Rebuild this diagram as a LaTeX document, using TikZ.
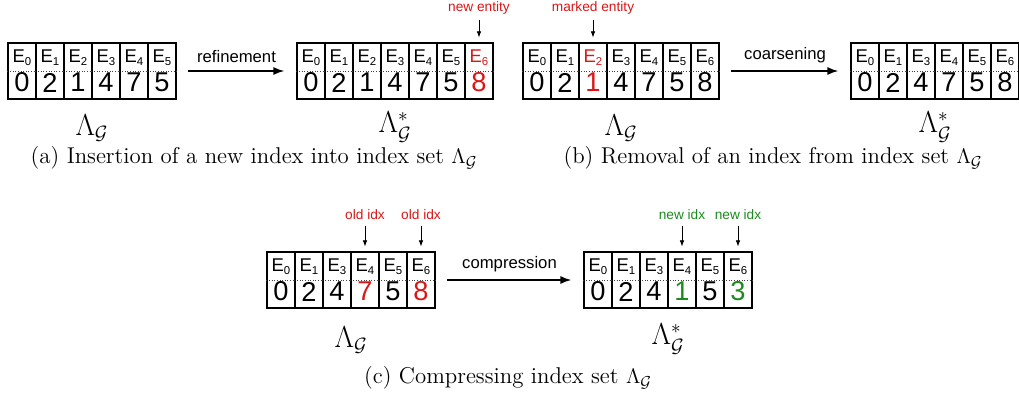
\documentclass[tikz,border=0pt]{standalone}
\usepackage{fontspec}
\newfontfamily\labelfont{Liberation Sans}
\usetikzlibrary{arrows.meta}
\definecolor{markred}{RGB}{218,22,22}
\definecolor{newgreen}{RGB}{28,138,28}
\tikzset{
  cell/.style={draw,line width=0.7pt,minimum width=0.56cm,minimum height=1.12cm,inner sep=0pt},
  idxtext/.style={font=\labelfont\fontsize{10.5}{11}\selectfont,inner sep=0pt},
  valtext/.style={font=\labelfont\fontsize{15.5}{16}\selectfont,inner sep=0pt},
  divider/.style={densely dotted,line width=0.5pt,black!75},
  note/.style={font=\labelfont\fontsize{7.8}{9}\selectfont,inner sep=1pt},
  steplabel/.style={font=\labelfont\fontsize{9.5}{11}\selectfont},
  bigarrow/.style={-{Latex[length=2.2mm,width=1.6mm]},line width=0.9pt,shorten <=0.22cm,shorten >=0.24cm},
  pointer/.style={-{Latex[length=1.2mm,width=0.9mm]},line width=0.4pt,shorten <=2pt,shorten >=0.1cm},
  setlabel/.style={font=\fontsize{16}{18}\selectfont,inner sep=0pt},
  subcap/.style={font=\fontsize{13}{15}\selectfont,inner sep=0pt},
}
% one index set: name, left x, top y, entries sub/value/sub colour/value colour
\newcommand{\idxrow}[4]{%
  \foreach \s/\v/\ecol/\vcol [count=\i from 0] in {#4} {
    \node[cell] (#1-\i) at ({#2+14+28*\i},{#3+28}) {};
    \draw[divider] (#1-\i.west) -- (#1-\i.east);
    \node[idxtext,text=\ecol] at ([yshift=0.27cm]#1-\i.center) {E\raisebox{-0.35ex}{\fontsize{6.5}{7}\selectfont\s}};
    \node[valtext,text=\vcol] at ([yshift=-0.23cm]#1-\i.center) {\v};
  }}
\begin{document}
\begin{tikzpicture}[x=0.02cm,y=-0.02cm]
  \useasboundingbox (0,0) rectangle (1019,396);
  % (a) refinement
  \idxrow{a1}{8}{43}{0/0/black/black,1/2/black/black,2/1/black/black,3/4/black/black,4/7/black/black,5/5/black/black}
  \idxrow{a2}{297}{43}{0/0/black/black,1/2/black/black,2/1/black/black,3/4/black/black,4/7/black/black,5/5/black/black,6/8/markred/markred}
  \draw[bigarrow] (a1-5) -- (a2-0) node[steplabel,midway,above=1pt] {refinement};
  \node[note,text=markred] (newent) at (479,8) {new entity};
  \draw[pointer] (newent) -- (a2-6);
  \node[setlabel] (a1lab) at (92,128) {$\Lambda_{\mathcal G}$};
  \node[setlabel] (a2lab) at (395,127) {$\Lambda^{*}_{\mathcal G}$};
  \node[subcap] (capa) at (254,158) {(a) Insertion of a new index into index set $\Lambda_{\mathcal G}$};
  % (b) coarsening
  \idxrow{b1}{523}{43}{0/0/black/black,1/2/black/black,2/1/markred/markred,3/4/black/black,4/7/black/black,5/5/black/black,6/8/black/black}
  \idxrow{b2}{851}{43}{0/0/black/black,1/2/black/black,3/4/black/black,4/7/black/black,5/5/black/black,6/8/black/black}
  \draw[bigarrow] (b1-6) -- (b2-0) node[steplabel,midway,above=1pt] {coarsening};
  \node[note,text=markred] (marked) at (593,8) {marked entity};
  \draw[pointer] (marked) -- (b1-2);
  \node[setlabel] (b1lab) at (621,128) {$\Lambda_{\mathcal G}$};
  \node[setlabel] (b2lab) at (935,127) {$\Lambda^{*}_{\mathcal G}$};
  \node[subcap] (capb) at (773,158) {(b) Removal of an index from index set $\Lambda_{\mathcal G}$};
  % (c) compression
  \idxrow{c1}{267}{252}{0/0/black/black,1/2/black/black,3/4/black/black,4/7/black/markred,5/5/black/black,6/8/black/markred}
  \idxrow{c2}{584}{252}{0/0/black/black,1/2/black/black,3/4/black/black,4/1/black/newgreen,5/5/black/black,6/3/black/newgreen}
  \draw[bigarrow] (c1-5) -- (c2-0) node[steplabel,midway,above=1pt] {compression};
  \node[note,text=markred] (oldA) at (365,215) {old idx};
  \node[note,text=markred] (oldB) at (421,215) {old idx};
  \draw[pointer] (oldA) -- (c1-3);
  \draw[pointer] (oldB) -- (c1-5);
  \node[note,text=newgreen] (newA) at (682,215) {new idx};
  \node[note,text=newgreen] (newB) at (738,215) {new idx};
  \draw[pointer] (newA) -- (c2-3);
  \draw[pointer] (newB) -- (c2-5);
  \node[setlabel] (c1lab) at (351,340) {$\Lambda_{\mathcal G}$};
  \node[setlabel] (c2lab) at (668,339) {$\Lambda^{*}_{\mathcal G}$};
  \node[subcap] (capc) at (508,378) {(c) Compressing index set $\Lambda_{\mathcal G}$};
\end{tikzpicture}
\end{document}
